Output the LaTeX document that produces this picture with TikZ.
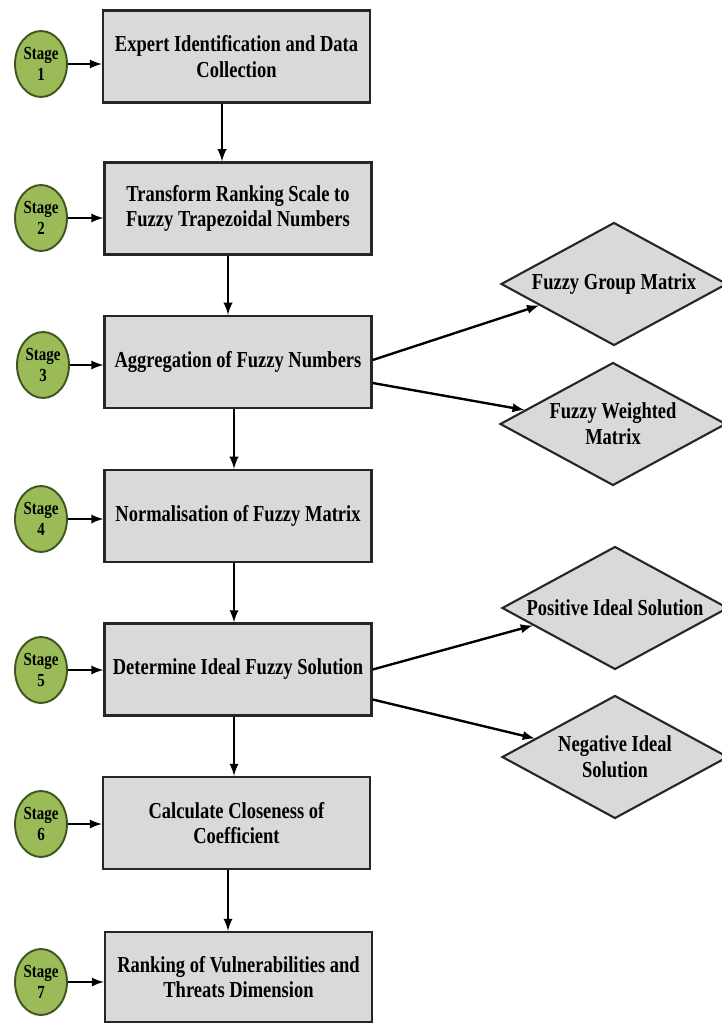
\documentclass[tikz,border=0pt]{standalone}
\usepackage{fontspec}
\setmainfont{Liberation Serif}[FakeStretch=0.81]
\usepackage{tikz}
\usetikzlibrary{shapes.geometric}
\definecolor{boxgray}{RGB}{217,217,217}
\definecolor{stagegreen}{RGB}{155,187,89}
\definecolor{stageedge}{RGB}{65,85,30}

\begin{document}
\begin{tikzpicture}[x=0.02cm,y=-0.02cm,
	stagecirc/.style={ellipse,draw=stageedge,line width=1.1pt,fill=stagegreen,minimum width=1.04cm,minimum height=1.32cm,inner sep=0pt,align=center,font=\fontsize{10.5}{12}\selectfont\bfseries},
	stepbox/.style={rectangle,draw=black!85,line width=1.4pt,fill=boxgray,minimum width=5.34cm,minimum height=1.84cm,align=center,font=\fontsize{13}{14.6}\selectfont\bfseries},
	outcome/.style={diamond,draw=black!85,line width=1.2pt,fill=boxgray,aspect=1.84,inner sep=0pt,minimum width=4.52cm,minimum height=2.46cm,align=center,font=\fontsize{13}{14.6}\selectfont\bfseries},
	arr/.style={-latex,line width=1.35pt}]
	\useasboundingbox (0,0) rectangle (721,1024);
	
	% main steps
	\node[stepbox] (b1) at (236.5,56.5) {Expert Identification and Data\\Collection};
	\node[stepbox] (b2) at (238,208.5) {Transform Ranking Scale to\\Fuzzy Trapezoidal Numbers};
	\node[stepbox] (b3) at (238,362) {Aggregation of Fuzzy Numbers};
	\node[stepbox] (b4) at (238,516) {Normalisation of Fuzzy Matrix};
	\node[stepbox] (b5) at (238,669.5) {Determine Ideal Fuzzy Solution};
	\node[stepbox] (b6) at (236.5,823) {Calculate Closeness of\\Coefficient};
	\node[stepbox,minimum height=1.8cm] (b7) at (238.5,977) {Ranking of Vulnerabilities and\\Threats Dimension};
	
	% stages
	\node[stagecirc] (s1) at (41,64) {Stage\\1};
	\node[stagecirc] (s2) at (41,218) {Stage\\2};
	\node[stagecirc] (s3) at (43,365) {Stage\\3};
	\node[stagecirc] (s4) at (41,519) {Stage\\4};
	\node[stagecirc] (s5) at (41,670) {Stage\\5};
	\node[stagecirc] (s6) at (41,824) {Stage\\6};
	\node[stagecirc] (s7) at (41,982) {Stage\\7};
	
	% outcomes
	\node[outcome] (fgm) at (614,284) {Fuzzy Group Matrix};
	\node[outcome] (fwm) at (613,424) {Fuzzy Weighted\\Matrix};
	\node[outcome] (pis) at (615,608) {Positive Ideal Solution};
	\node[outcome] (nis) at (615,757) {Negative Ideal\\Solution};
	
	\draw[arr] (s1.east) -- (s1.east -| b1.west);
	\draw[arr] (s2.east) -- (s2.east -| b2.west);
	\draw[arr] (s3.east) -- (s3.east -| b3.west);
	\draw[arr] (s4.east) -- (s4.east -| b4.west);
	\draw[arr] (s5.east) -- (s5.east -| b5.west);
	\draw[arr] (s6.east) -- (s6.east -| b6.west);
	\draw[arr] (s7.east) -- (s7.east -| b7.west);
	
	\draw[arr] ([xshift=-0.29cm]b1.south) -- ([xshift=-0.29cm]b1.south |- b2.north);
	\draw[arr] ([xshift=-0.2cm]b2.south) -- ([xshift=-0.2cm]b2.south |- b3.north);
	\draw[arr] ([xshift=-0.08cm]b3.south) -- ([xshift=-0.08cm]b3.south |- b4.north);
	\draw[arr] ([xshift=-0.08cm]b4.south) -- ([xshift=-0.08cm]b4.south |- b5.north);
	\draw[arr] ([xshift=-0.08cm]b5.south) -- ([xshift=-0.08cm]b5.south |- b6.north);
	\draw[arr] ([xshift=-0.17cm]b6.south) -- ([xshift=-0.17cm]b6.south |- b7.north);
	
	\draw[arr] ([yshift=0.04cm]b3.east) -- (fgm.196);
	\draw[arr] ([yshift=-0.42cm]b3.east) -- (fwm.171);
	\draw[arr] (b5.east) -- (pis.192);
	\draw[arr] ([yshift=-0.6cm]b5.east) -- (nis.167);
\end{tikzpicture}
\end{document}
